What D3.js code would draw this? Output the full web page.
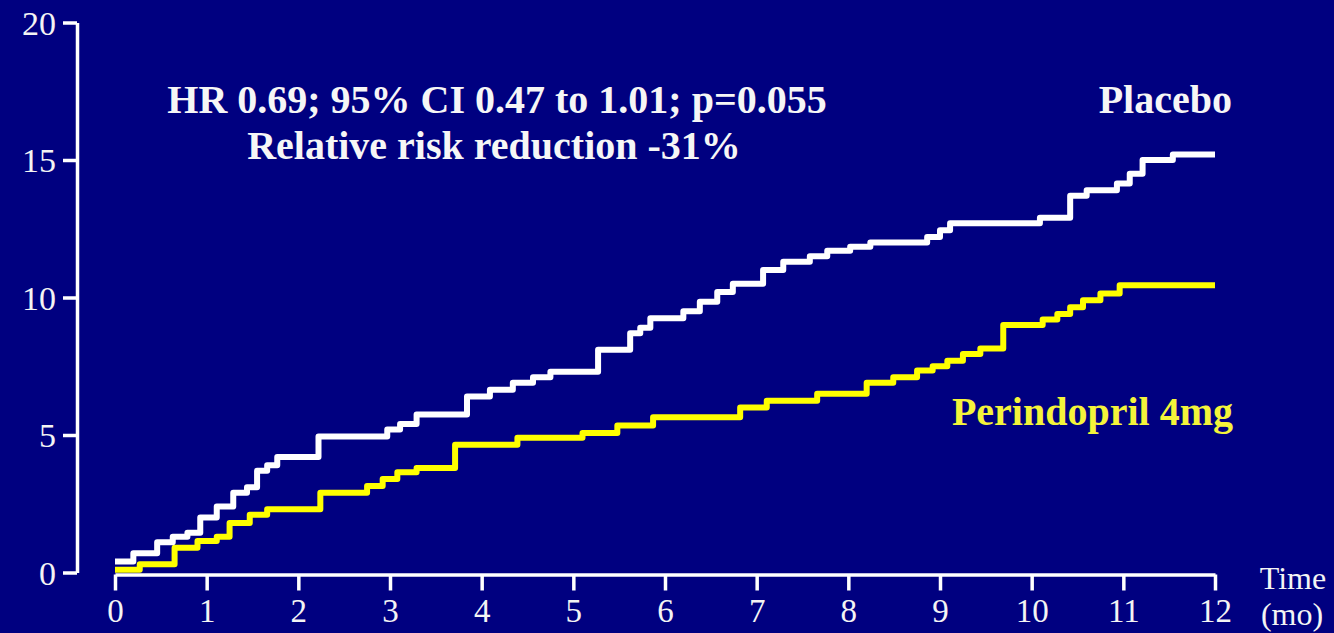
<!DOCTYPE html>
<html>
<head>
<meta charset="utf-8">
<script src="https://cdn.jsdelivr.net/npm/d3@7"></script>
<style>
  html, body { margin: 0; padding: 0; background: #000080; }
  svg { display: block; }
</style>
</head>
<body>
<svg id="chart" width="1334" height="633"></svg>
<script>
// Kaplan–Meier cumulative event curves: [month, cumulative %]
const placeboSteps = [
  [0, 0.4], [0.2, 0.7], [0.46, 1.1], [0.63, 1.3], [0.79, 1.45], [0.93, 2.0],
  [1.11, 2.4], [1.29, 2.9], [1.44, 3.1], [1.55, 3.7], [1.66, 3.9], [1.77, 4.2],
  [2.22, 4.95], [2.97, 5.2], [3.11, 5.4], [3.29, 5.75], [3.84, 6.4], [4.09, 6.65],
  [4.34, 6.9], [4.56, 7.1], [4.75, 7.3], [5.27, 8.1], [5.62, 8.7], [5.73, 8.9],
  [5.84, 9.25], [6.2, 9.5], [6.38, 9.85], [6.57, 10.2], [6.74, 10.5], [7.07, 11.0],
  [7.29, 11.3], [7.58, 11.5], [7.77, 11.7], [8.02, 11.85], [8.24, 12.0], [8.86, 12.2],
  [9.0, 12.45], [9.11, 12.7], [10.09, 12.9], [10.42, 13.7], [10.6, 13.9], [10.93, 14.15],
  [11.07, 14.5], [11.21, 15.0], [11.54, 15.2], [12, 15.2]
];
const perindoprilSteps = [
  [0, 0.1], [0.27, 0.3], [0.65, 0.9], [0.9, 1.15], [1.11, 1.3], [1.25, 1.8],
  [1.47, 2.1], [1.66, 2.3], [2.24, 2.9], [2.75, 3.15], [2.92, 3.4], [3.08, 3.65],
  [3.29, 3.8], [3.71, 4.65], [4.39, 4.9], [5.1, 5.07], [5.48, 5.35], [5.87, 5.65],
  [6.82, 6.0], [7.11, 6.25], [7.66, 6.5], [8.2, 6.9], [8.49, 7.1], [8.75, 7.35],
  [8.92, 7.5], [9.08, 7.7], [9.25, 7.95], [9.44, 8.15], [9.69, 9.0], [10.12, 9.2],
  [10.28, 9.4], [10.42, 9.65], [10.56, 9.9], [10.75, 10.15], [10.96, 10.45], [12, 10.45]
];
const xTicks = [0, 1, 2, 3, 4, 5, 6, 7, 8, 9, 10, 11, 12];
const yTicks = [0, 5, 10, 15, 20];
const statLines = ["HR 0.69; 95% CI 0.47 to 1.01; p=0.055", "Relative risk reduction -31%"];
const seriesNames = ["Placebo", "Perindopril 4mg"];
const xAxisTitle = ["Time", "(mo)"];

const svg = d3.select("#chart");
const W = 1334, H = 633;
const bg = "#000080";
const white = "#ffffff";
const yellow = "#ffff00";
const serif = "'Liberation Serif', 'Times New Roman', serif";

svg.append("rect").attr("width", W).attr("height", H).attr("fill", bg);

const x = d3.scaleLinear().domain([0, 12]).range([115, 1215]);
const y = d3.scaleLinear().domain([0, 20]).range([572.5, 22.5]);

// Y axis
const yAxis = svg.append("g")
  .attr("transform", "translate(77,0)")
  .call(d3.axisLeft(y).tickValues(yTicks).tickSize(14).tickSizeOuter(0).tickPadding(7));
yAxis.select(".domain").attr("stroke", white).attr("stroke-width", 3.5);
yAxis.selectAll(".tick line").attr("stroke", white).attr("stroke-width", 3.5);
yAxis.selectAll(".tick text")
  .attr("fill", "#f4f4f4").attr("font-family", serif).attr("font-size", 34)
  .attr("dy", "0.34em");

// X axis
const xAxis = svg.append("g")
  .attr("transform", "translate(0,574.5)")
  .call(d3.axisBottom(x).tickValues(xTicks).tickSize(16).tickSizeOuter(0).tickPadding(8));
xAxis.select(".domain").attr("stroke", white).attr("stroke-width", 3.5);
xAxis.selectAll(".tick line").attr("stroke", white).attr("stroke-width", 3.5);
xAxis.selectAll(".tick text")
  .attr("fill", "#f4f4f4").attr("font-family", serif).attr("font-size", 33);

// Axis title at the right end of the time axis
svg.append("text")
  .attr("x", 1293).attr("y", 589)
  .attr("text-anchor", "middle").attr("fill", "#f4f4f4")
  .attr("font-family", serif).attr("font-size", 32)
  .text(xAxisTitle[0]);
svg.append("text")
  .attr("x", 1292).attr("y", 625)
  .attr("text-anchor", "middle").attr("fill", "#f4f4f4")
  .attr("font-family", serif).attr("font-size", 32)
  .text(xAxisTitle[1]);

// Step curves
const line = d3.line()
  .x(d => x(d[0]))
  .y(d => y(d[1]))
  .curve(d3.curveStepAfter);

svg.append("path")
  .datum(perindoprilSteps)
  .attr("d", line)
  .attr("fill", "none").attr("stroke", yellow)
  .attr("stroke-width", 6).attr("stroke-linejoin", "round");

svg.append("path")
  .datum(placeboSteps)
  .attr("d", line)
  .attr("fill", "none").attr("stroke", white)
  .attr("stroke-width", 6).attr("stroke-linejoin", "round");

// Statistics annotation
svg.append("text")
  .attr("x", 497).attr("y", 113)
  .attr("text-anchor", "middle").attr("fill", "#f6f6f6")
  .attr("font-family", serif).attr("font-weight", "bold").attr("font-size", 40)
  .text(statLines[0]);
svg.append("text")
  .attr("x", 494).attr("y", 159)
  .attr("text-anchor", "middle").attr("fill", "#f6f6f6")
  .attr("font-family", serif).attr("font-weight", "bold").attr("font-size", 40)
  .text(statLines[1]);

// Series labels
svg.append("text")
  .attr("x", 1232).attr("y", 113)
  .attr("text-anchor", "end").attr("fill", "#f6f6f6")
  .attr("font-family", serif).attr("font-weight", "bold").attr("font-size", 40)
  .text(seriesNames[0]);
svg.append("text")
  .attr("x", 1233).attr("y", 425)
  .attr("text-anchor", "end").attr("fill", "#f4f43a")
  .attr("font-family", serif).attr("font-weight", "bold").attr("font-size", 40)
  .text(seriesNames[1]);
</script>
</body>
</html>
